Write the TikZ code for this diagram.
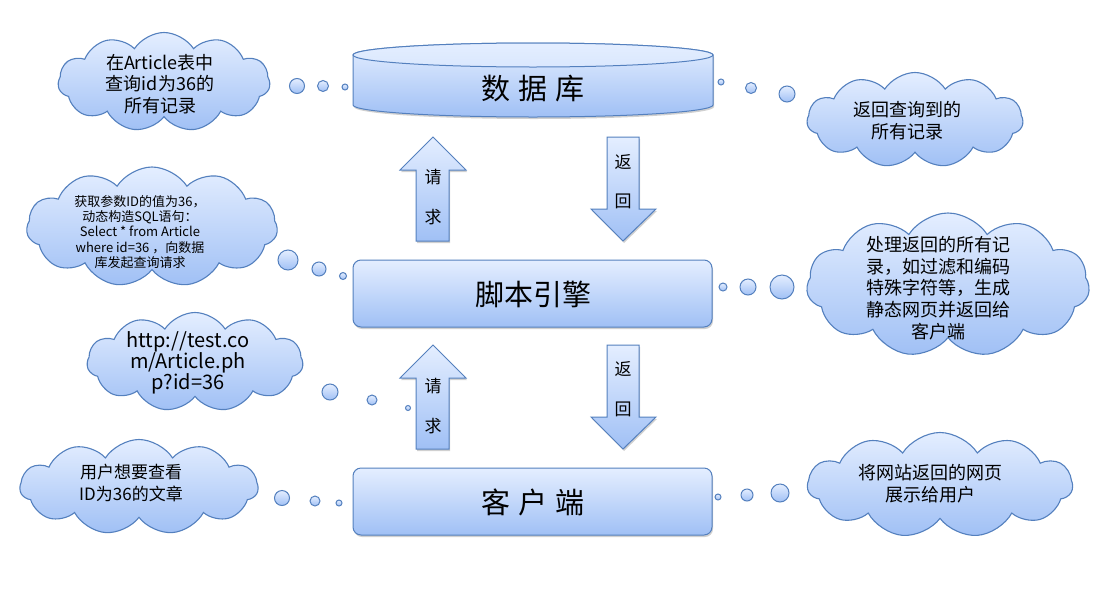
\documentclass[tikz,border=0pt]{standalone}
\usepackage{fontspec}
\setmainfont{Noto Sans CJK SC}
\usetikzlibrary{shapes.symbols,shadows}
\definecolor{fillTop}{RGB}{228,238,255}
\definecolor{fillBot}{RGB}{160,192,245}
\definecolor{edge}{RGB}{84,128,190}
\tikzset{
  thought/.style={cloud, cloud puffs=11, cloud puff arc=115, draw=edge, line width=1.1pt,
    top color=fillTop, bottom color=fillBot, inner sep=0pt},
  bubble/.style={circle, draw=edge, line width=1pt, top color=fillTop, bottom color=fillBot, inner sep=0pt},
  mainbox/.style={rounded corners=8pt, draw=edge, line width=1pt, top color=fillTop, bottom color=fillBot,
    drop shadow={shadow xshift=1pt, shadow yshift=-2pt, opacity=0.3, fill=black!60}},
  bigarrow/.style={draw=edge, line width=1pt, top color=fillTop, bottom color=fillBot,
    drop shadow={shadow xshift=1pt, shadow yshift=-2pt, opacity=0.3, fill=black!60}},
  ctext/.style={align=center, text=black, inner sep=0pt},
  arrtext/.style={text=black, inner sep=0pt, font=\fontsize{17}{20}\selectfont},
  bigtext/.style={text=black, inner sep=0pt, font=\fontsize{29}{34}\selectfont}
}
\begin{document}
\begin{tikzpicture}[x=1pt,y=-1pt]
\useasboundingbox (0,0) rectangle (1105,592);
\fill[white] (0,0) rectangle (1105,592);

% ---------- database cylinder ----------
\path[bigarrow] (353,55) -- (353,105)
  .. controls (353,111.63) and (433.6,117) .. (533,117)
  .. controls (632.4,117) and (713,111.63) .. (713,105)
  -- (713,55)
  .. controls (713,48.37) and (632.4,43) .. (533,43)
  .. controls (433.6,43) and (353,48.37) .. (353,55) -- cycle;
\path[draw=edge, line width=1pt, top color=fillTop, bottom color=fillTop!85!fillBot]
  (533,55) ellipse [x radius=180, y radius=12];
\node[bigtext] (db) at (533,89) {数\hspace{8pt}据\hspace{8pt}库};

% ---------- script engine / client ----------
\path[mainbox] (353,260) rectangle (712,327);
\node[bigtext] (engine) at (533,294) {脚本引擎};
\path[mainbox] (353,468) rectangle (712,535);
\node[bigtext] (client) at (533,502) {客\hspace{8pt}户\hspace{8pt}端};

% ---------- big arrows ----------
\path[bigarrow] (416,241) -- (416,170) -- (400,170) -- (433,137) -- (466,170) -- (449,170) -- (449,241) -- cycle;
\path[bigarrow] (607,137) -- (639,137) -- (639,209) -- (656,209) -- (623,241) -- (591,209) -- (607,209) -- cycle;
\path[bigarrow] (416,449) -- (416,378) -- (400,378) -- (433,345) -- (466,378) -- (449,378) -- (449,449) -- cycle;
\path[bigarrow] (607,345) -- (639,345) -- (639,417) -- (656,417) -- (623,449) -- (591,417) -- (607,417) -- cycle;
\node[arrtext] (q1) at (433,177) {请};
\node[arrtext] (q2) at (433,217) {求};
\node[arrtext] (r1) at (623,162) {返};
\node[arrtext] (r2) at (623,201) {回};
\node[arrtext] (q3) at (433,386) {请};
\node[arrtext] (q4) at (433,426) {求};
\node[arrtext] (r3) at (623,369) {返};
\node[arrtext] (r4) at (623,409) {回};

% ---------- clouds ----------
\node[thought, minimum width=212pt, minimum height=99pt] (c1) at (164,82) {};
\node[ctext, font=\fontsize{18}{21.5}\selectfont] (t1) at (160,84) {在Article表中\\查询id为36的\\所有记录};
\node[bubble, minimum size=15pt] (d11) at (297,86) {};
\node[bubble, minimum size=11pt] (d12) at (323,86) {};
\node[bubble, minimum size=6pt] (d13) at (345,87) {};

\node[thought, minimum width=216pt, minimum height=95pt] (c2) at (915,120) {};
\node[ctext, font=\fontsize{18}{22}\selectfont] (t2) at (907,121) {返回查询到的\\所有记录};
\node[bubble, minimum size=6pt] (d21) at (721,82) {};
\node[bubble, minimum size=11pt] (d22) at (751,88) {};
\node[bubble, minimum size=16pt] (d23) at (787,94) {};

\node[thought, minimum width=251pt, minimum height=120pt] (c3) at (152,227) {};
\node[ctext, font=\fontsize{13}{15.3}\selectfont] (t3) at (140,232) {获取参数ID的值为36，\\动态构造SQL语句：\\Select * from Article\\where id=36 ，向数据\\库发起查询请求};
\node[bubble, minimum size=20pt] (d31) at (288,260) {};
\node[bubble, minimum size=14pt] (d32) at (319,269) {};
\node[bubble, minimum size=7pt] (d33) at (343,276) {};

\node[thought, minimum width=283pt, minimum height=144pt] (c4) at (948,285) {};
\node[ctext, font=\fontsize{18}{21.7}\selectfont] (t4) at (938,288) {处理返回的所有记\\录，如过滤和编码\\特殊字符等，生成\\静态网页并返回给\\客户端};
\node[bubble, minimum size=8pt] (d41) at (723,287) {};
\node[bubble, minimum size=16pt] (d42) at (748,287) {};
\node[bubble, minimum size=24pt] (d43) at (782,287) {};

\node[thought, minimum width=216pt, minimum height=99pt] (c5) at (195,362) {};
\node[ctext, font=\fontsize{20}{21}\selectfont] (t5) at (188,363) {http://test.co\\m/Article.ph\\p?id=36};
\node[bubble, minimum size=16pt] (d51) at (330,392) {};
\node[bubble, minimum size=10pt] (d52) at (372,400) {};
\node[bubble, minimum size=5pt] (d53) at (408,408) {};

\node[thought, minimum width=238pt, minimum height=95pt] (c6) at (139,487) {};
\node[ctext, font=\fontsize{17}{22}\selectfont] (t6) at (131,483) {用户想要查看\\ID为36的文章};
\node[bubble, minimum size=15pt] (d61) at (282,498) {};
\node[bubble, minimum size=10pt] (d62) at (315,501) {};
\node[bubble, minimum size=6pt] (d63) at (339,503) {};

\node[thought, minimum width=265pt, minimum height=105pt] (c7) at (940,485) {};
\node[ctext, font=\fontsize{18}{22}\selectfont] (t7) at (930,484) {将网站返回的网页\\展示给用户};
\node[bubble, minimum size=6pt] (d71) at (718,497) {};
\node[bubble, minimum size=12pt] (d72) at (747,495) {};
\node[bubble, minimum size=18pt] (d73) at (780,493) {};
\end{tikzpicture}
\end{document}
